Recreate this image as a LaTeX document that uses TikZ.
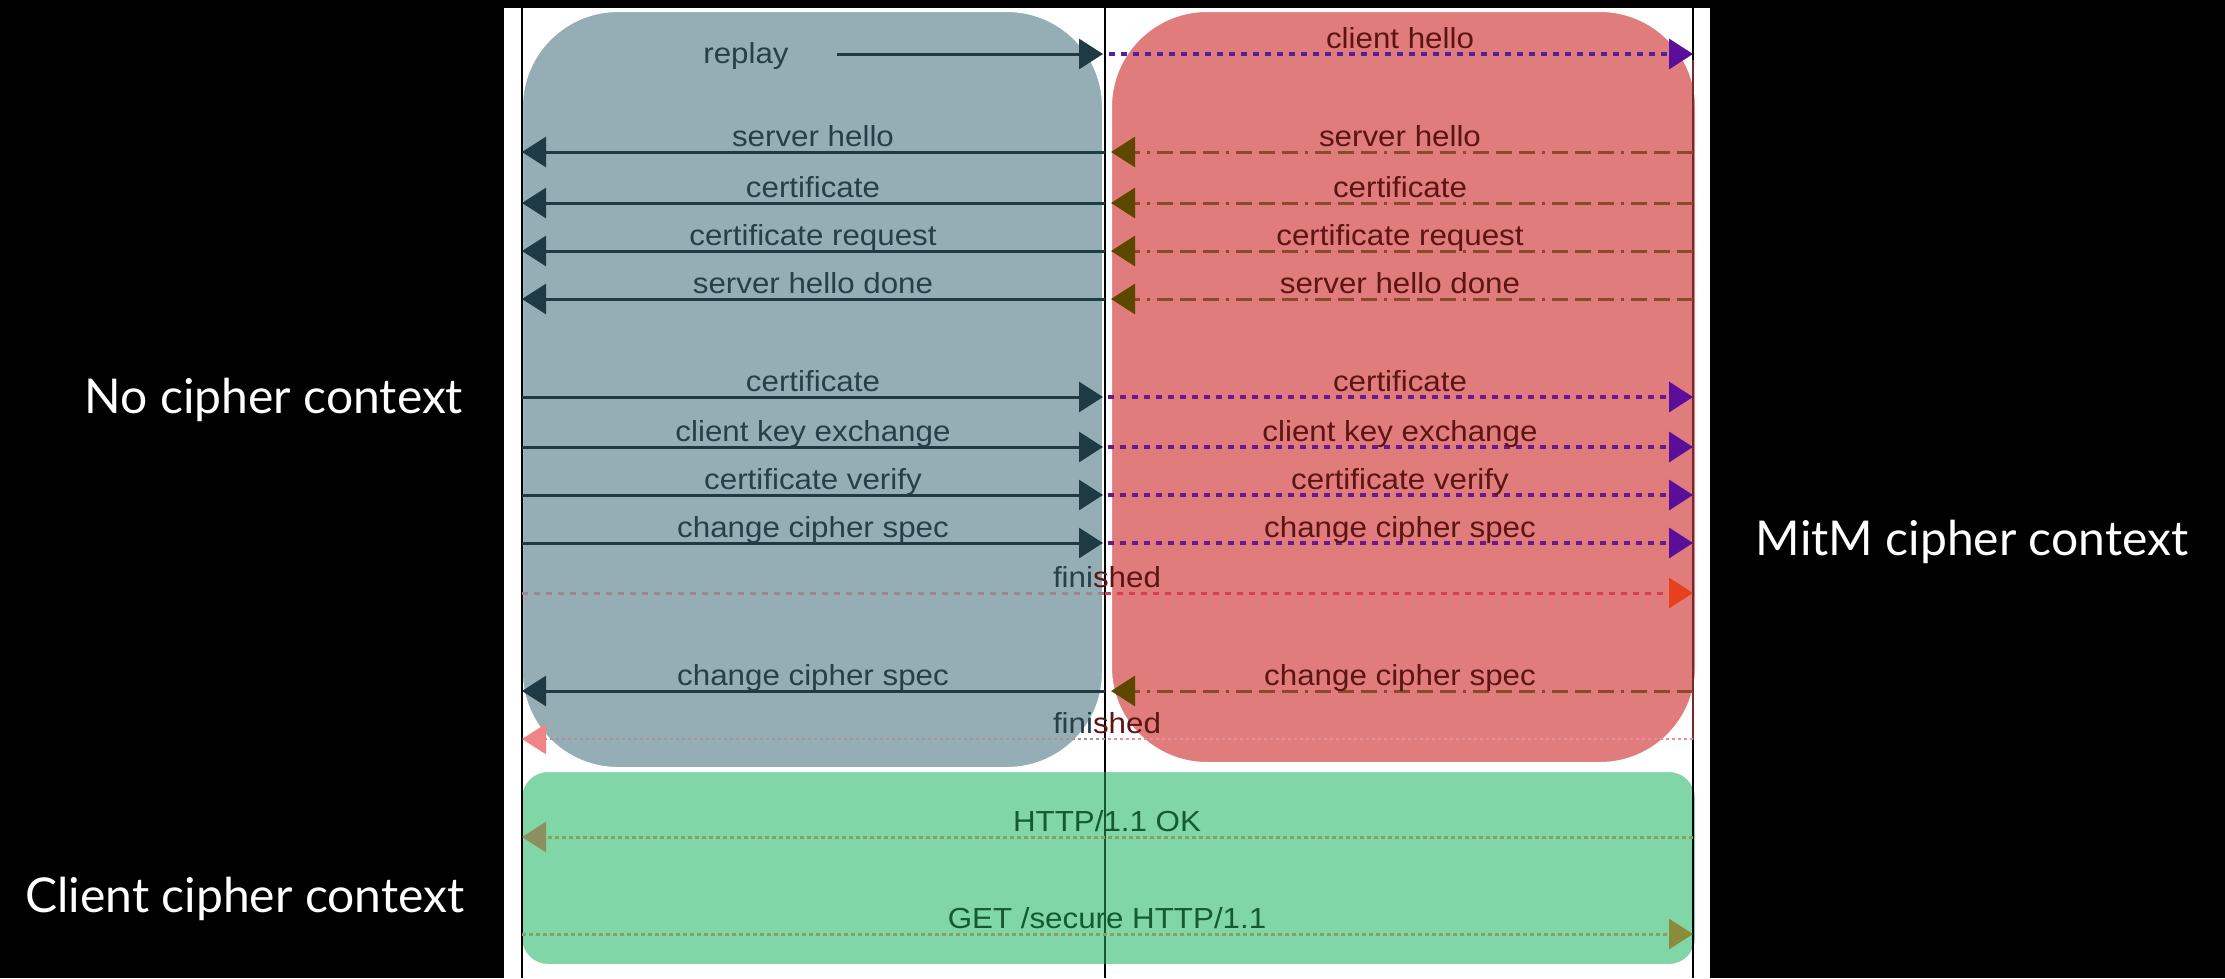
\documentclass[tikz,border=0pt]{standalone}
\usepackage{fontspec}
\setmainfont{Liberation Sans}
\newfontfamily\lblfont[FakeStretch=1.08]{Liberation Sans}
\newfontfamily\sidefont{Lato}
\usetikzlibrary{arrows.meta}
\definecolor{graybox}{HTML}{95AEB5}
\definecolor{redbox}{HTML}{E07C7C}
\definecolor{greenbox}{HTML}{80D6A6}
\definecolor{darkarr}{HTML}{1E3A44}
\definecolor{ltxt}{HTML}{26404A}
\definecolor{rtxt}{HTML}{5C1414}
\definecolor{gtxt}{HTML}{145A32}
\definecolor{ddline}{HTML}{8B4A2B}
\definecolor{ddhead}{HTML}{5E4800}
\definecolor{purpline}{HTML}{6B1A8E}
\definecolor{purphead}{HTML}{5A0E9A}
\definecolor{blueline}{HTML}{5020A0}
\definecolor{finleft}{HTML}{A08590}
\definecolor{finright}{HTML}{D8404F}
\definecolor{finhead}{HTML}{E8401E}
\definecolor{fintwo}{HTML}{E8909A}
\definecolor{fintwoleft}{HTML}{A89098}
\definecolor{fintwohead}{HTML}{F08585}
\definecolor{httpline}{HTML}{8AA060}
\definecolor{httphead}{HTML}{8C9060}
\definecolor{gethead}{HTML}{8A8C3C}
\begin{document}
\begin{tikzpicture}[x=1pt,y=-1pt,
  lbl/.style={font=\lblfont\fontsize{29}{32}\selectfont, anchor=base, inner sep=0pt},
  lt/.style={lbl, text=ltxt},
  rt/.style={lbl, text=rtxt},
  gt/.style={lbl, text=gtxt},
  side/.style={font=\sidefont\fontsize{48}{52}\selectfont, text=white, anchor=base, inner sep=0pt},
  solidarr/.style={draw=darkarr, line width=3pt, -{Triangle[length=24pt,width=30pt,color=darkarr]}},
  ddarr/.style={draw=ddline, line width=3pt, dash pattern=on 16pt off 7pt on 16pt off 7pt on 16pt off 7pt on 3pt off 7pt, -{Triangle[length=24pt,width=30pt,color=ddhead]}},
  purparr/.style={draw=purpline, line width=3.5pt, dash pattern=on 6pt off 6pt, -{Triangle[length=24pt,width=30pt,color=purphead]}},
  plaindot/.style={line width=3pt, dash pattern=on 6pt off 6pt},
  finedot/.style={line width=2.5pt, dash pattern=on 3pt off 3pt},
  httpdot/.style={draw=httpline, line width=3pt, dash pattern=on 4pt off 3pt},
  ctxbox/.style={draw=white, line width=2pt}
]
\useasboundingbox (0,0) rectangle (2225,978);
\fill[black] (0,0) rectangle (2225,978);
\fill[white] (504,8) rectangle (1710,978);

% boxes
\path[ctxbox, fill=graybox, rounded corners=96pt] (522,11) rectangle (1103,768);
\path[ctxbox, fill=redbox, rounded corners=96pt] (1111,11) rectangle (1696,763);
\path[ctxbox, fill=greenbox, rounded corners=27pt] (521,771) rectangle (1696,965);

% lifelines
\coordinate (Ltop) at (522,8);   \coordinate (Lbot) at (522,978);
\coordinate (Mtop) at (1105,8);  \coordinate (Mbot) at (1105,978);
\coordinate (Rtop) at (1693,8);  \coordinate (Rbot) at (1693,978);
\draw[black, line width=2pt] (Ltop) -- (Lbot);
\draw[black, line width=2pt] (Mtop) -- (Mbot);
\draw[black, line width=2pt] (Rtop) -- (Rbot);
\draw[rtxt!80!redbox, line width=2pt] (1693,60) -- (1693,740);
\draw[gtxt, line width=2pt] (1105,772) -- (1105,964);

% row coordinates
\foreach \n/\y in {rep/54, sh/152, ce/203, cr/251, shd/299, ce2/397, cke/447, cv/495, ccs/543, fin/593, ccs2/691, fin2/739, ok/837, get/934}{
  \coordinate (L\n) at (522,\y);
  \coordinate (M\n) at (1105,\y);
  \coordinate (R\n) at (1693,\y);
}

% replay / client hello
\coordinate (repstart) at (837,54);
\node[lt] (replaylbl) at (746,63) {replay};
\draw[solidarr, shorten >=2pt] (repstart) -- (Mrep);
\draw[draw=blueline, line width=3.5pt, dash pattern=on 6pt off 6pt, -{Triangle[length=24pt,width=30pt,color=purphead]}, shorten <=4pt] (Mrep) -- (Rrep);
\node[rt] (chlbl) at (1400,48) {client hello};

% server -> client messages
\foreach \n in {sh, ce, cr, shd, ccs2}{
  \draw[solidarr] (M\n) -- (L\n);
  \draw[ddarr, shorten >=6pt] (R\n) -- (M\n);
}
\node[lt] (shl) at (813,146) {server hello};
\node[rt] (shr) at (1400,146) {server hello};
\node[lt] (cel) at (813,197) {certificate};
\node[rt] (cer) at (1400,197) {certificate};
\node[lt] (crl) at (813,245) {certificate request};
\node[rt] (crr) at (1400,245) {certificate request};
\node[lt] (shdl) at (813,293) {server hello done};
\node[rt] (shdr) at (1400,293) {server hello done};
\node[lt] (ccs2l) at (813,685) {change cipher spec};
\node[rt] (ccs2r) at (1400,685) {change cipher spec};

% client -> server messages
\foreach \n in {ce2, cke, cv, ccs}{
  \draw[solidarr, shorten >=2pt] (L\n) -- (M\n);
  \draw[purparr, shorten <=3pt] (M\n) -- (R\n);
}
\node[lt] (ce2l) at (813,391) {certificate};
\node[rt] (ce2r) at (1400,391) {certificate};
\node[lt] (ckel) at (813,441) {client key exchange};
\node[rt] (ckerr) at (1400,441) {client key exchange};
\node[lt] (cvl) at (813,489) {certificate verify};
\node[rt] (cvr) at (1400,489) {certificate verify};
\node[lt] (ccsl) at (813,537) {change cipher spec};
\node[rt] (ccsr) at (1400,537) {change cipher spec};

% finished (client -> server)
\draw[plaindot, draw=finleft] (Lfin) -- (Mfin);
\draw[plaindot, draw=finright, -{Triangle[length=24pt,width=30pt,color=finhead]}] (Mfin) -- (Rfin);
\node[lbl, text=ltxt] (finl) at (1107,587) {fini\textcolor{rtxt}{shed}};

% finished (server -> client)
\draw[finedot, draw=fintwo] (Rfin2) -- (Mfin2);
\draw[finedot, draw=fintwoleft, -{Triangle[length=24pt,width=30pt,color=fintwohead]}] (Mfin2) -- (Lfin2);
\node[lbl, text=ltxt] (fin2l) at (1107,733) {fini\textcolor{rtxt}{shed}};

% application data
\draw[httpdot, -{Triangle[length=24pt,width=30pt,color=httphead]}] (Rok) -- (Lok);
\node[gt] (oklbl) at (1107,831) {HTTP/1.1 OK};
\draw[httpdot, -{Triangle[length=24pt,width=30pt,color=gethead]}] (Lget) -- (Rget);
\node[gt] (getlbl) at (1107,928) {GET /secure HTTP/1.1};

% side labels
\node[side] (nocc) at (274,413) {No cipher context};
\node[side] (clcc) at (245,912) {Client cipher context};
\node[side] (mitm) at (1972,555) {MitM cipher context};
\end{tikzpicture}
\end{document}
